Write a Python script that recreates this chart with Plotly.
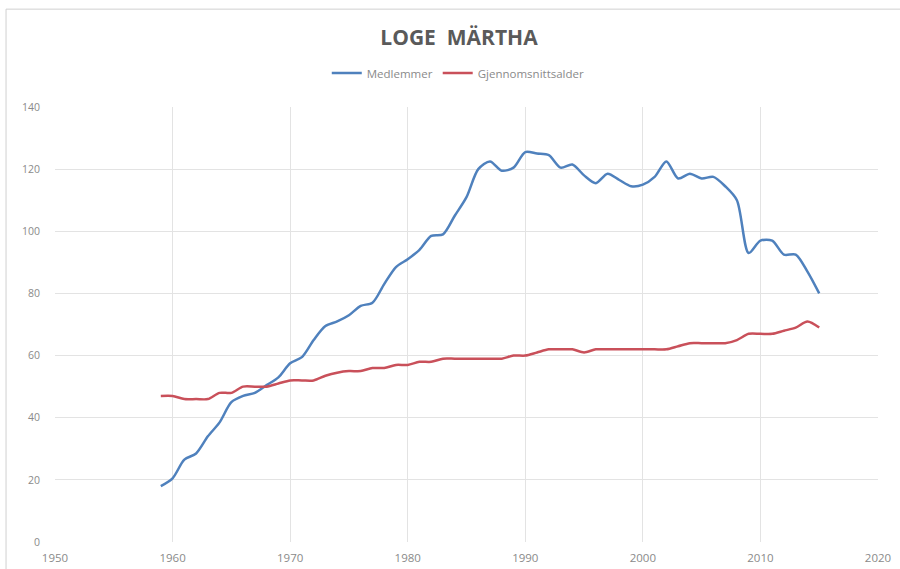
import plotly.graph_objects as go

years = list(range(1959, 2016))

medlemmer = [18, 20.5, 26.5, 28.5, 34, 38.5, 45, 47, 48, 50.5,
             53, 57.5, 59.5, 65, 69.5, 71, 73, 76, 77, 83,
             88.5, 91, 94, 98.5, 99, 105, 111, 120, 122.5, 119.5,
             120.5, 125.5, 125, 124.5, 120.5, 121.5, 118, 115.5, 118.5, 116.5,
             114.5, 115, 117.5, 122.5, 117, 118.5, 117, 117.5, 114.5, 110,
             93, 97, 97, 92.5, 92.5, 87, 80]

gjennomsnittsalder = [47, 47, 46, 46, 46, 48, 48, 50, 50, 50,
                      51, 52, 52, 52, 53.5, 54.5, 55, 55, 56, 56,
                      57, 57, 58, 58, 59, 59, 59, 59, 59, 59,
                      60, 60, 61, 62, 62, 62, 61, 62, 62, 62,
                      62, 62, 62, 62, 63, 64, 64, 64, 64, 65,
                      67, 67, 67, 68, 69, 71, 69]

x_ticks = [1950, 1960, 1970, 1980, 1990, 2000, 2010, 2020]
y_ticks = [0, 20, 40, 60, 80, 100, 120, 140]

fig = go.Figure()
fig.add_trace(go.Scatter(x=years, y=medlemmer, name="Medlemmer", mode="lines",
                         line=dict(color="#4F81BD", width=2.5, shape="spline", smoothing=0.8)))
fig.add_trace(go.Scatter(x=years, y=gjennomsnittsalder, name="Gjennomsnittsalder", mode="lines",
                         line=dict(color="#C9505A", width=2.5, shape="spline", smoothing=0.8)))

font_family = "Open Sans, DejaVu Sans, sans-serif"

fig.update_layout(
    width=900, height=569,
    margin=dict(l=55, r=22, t=107, b=27, autoexpand=False),
    paper_bgcolor="white", plot_bgcolor="white",
    title=dict(text="<b>LOGE  MÄRTHA</b>", x=0.51, xanchor="center", y=0.933, yanchor="middle",
               font=dict(family=font_family, size=21, color="#5a5a5a")),
    legend=dict(orientation="h", x=0.49, xanchor="center", y=1.078, yanchor="middle",
                font=dict(family=font_family, size=11.5, color="#8a8a8a"),
                itemwidth=30, bgcolor="rgba(0,0,0,0)"),
    showlegend=True,
    shapes=[dict(type="rect", xref="paper", yref="paper", x0=-0.0595, y0=-0.2, x1=1.1, y1=1.225,
                 line=dict(color="#d0d0d0", width=1), fillcolor="rgba(0,0,0,0)", layer="below")],
)
fig.update_xaxes(range=[1950, 2020], tickvals=x_ticks, ticktext=[str(v) for v in x_ticks],
                 showgrid=True, gridcolor="#e3e3e3", gridwidth=1, zeroline=False, showline=False,
                 tickfont=dict(family=font_family, size=11.5, color="#8a8a8a"),
                 ticks="", ticklabelstandoff=7, automargin=False)
fig.update_yaxes(range=[0, 140], tickvals=y_ticks, ticktext=[str(v) for v in y_ticks],
                 showgrid=True, gridcolor="#e3e3e3", gridwidth=1, zeroline=False, showline=False,
                 tickfont=dict(family=font_family, size=10.5, color="#8a8a8a"),
                 ticks="", ticklabelstandoff=14, automargin=False)

fig.write_html("out.html", config={"displayModeBar": False},
               post_script="document.body.style.margin='0';document.body.style.overflow='hidden';")
